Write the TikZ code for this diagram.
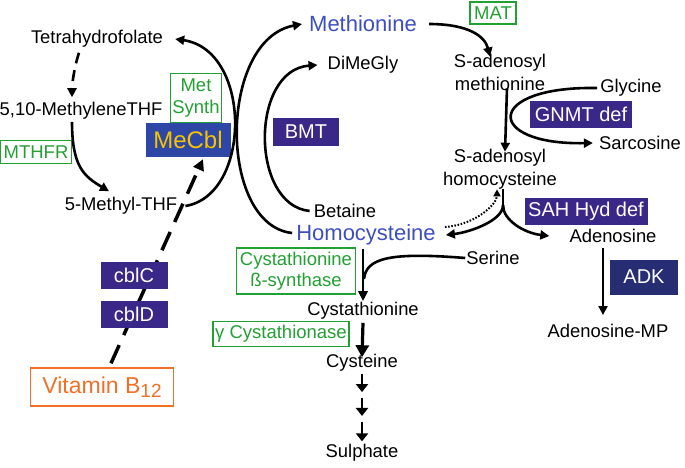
\documentclass[tikz,border=0pt]{standalone}
\usepackage{fontspec}
\setmainfont{Liberation Sans}
\usetikzlibrary{arrows.meta,positioning,calc}
\definecolor{metblue}{HTML}{3D4FBF}
\definecolor{enzgreen}{HTML}{22A032}
\definecolor{defpurple}{HTML}{3A2888}
\definecolor{adknavy}{HTML}{272D73}
\definecolor{cblblue}{HTML}{2E47A6}
\definecolor{cblyellow}{HTML}{F5C400}
\definecolor{vitorange}{HTML}{F07028}
\tikzset{
	metab/.style={inner sep=0pt, align=center, font=\fontsize{18.4}{23}\selectfont},
	keymetab/.style={inner sep=0pt, text=metblue, font=\fontsize{22}{26}\selectfont},
	enzyme/.style={draw=enzgreen, text=enzgreen, line width=1.7pt, align=center,
		inner sep=0pt, font=\fontsize{18.5}{21.5}\selectfont},
	defect/.style={fill=defpurple, text=white, inner sep=0pt,
		minimum height=27pt, font=\fontsize{20}{24}\selectfont},
	flux/.style={line width=2.6pt, -{Triangle[length=9pt,width=9pt]}},
	bigflux/.style={line width=3.2pt, -{Triangle[length=12pt,width=13pt]}},
	stepflux/.style={line width=2.6pt, -{Triangle[length=8pt,width=12pt]}},
	dotflux/.style={line width=2pt, dash pattern=on 1.6pt off 1.6pt,
		-{Triangle[length=7pt,width=7pt]}},
	b12flux/.style={line width=3.5pt, dash pattern=on 20pt off 11pt,
		-{Triangle[length=11pt,width=11pt]}}
}

\begin{document}
\begin{tikzpicture}[x=1pt, y=-1pt]
	\useasboundingbox (0,0) rectangle (685,467);

	\node[metab] (thf) at (97,39) {Tetrahydrofolate};
	\node[metab] (mthf) at (81,111) {5,10-MethyleneTHF};
	\node[metab] (methylthf) at (121,206) {5-Methyl-THF};
	\node[enzyme, minimum width=71pt, minimum height=23pt] (mthfr) at (36,152) {MTHFR};
	\node[enzyme, minimum width=51pt, minimum height=49pt] (metsynth) at (196,98) {Met\\Synth};
	\node[fill=cblblue, text=cblyellow, inner sep=0pt, minimum width=85pt, minimum height=34pt,
		font=\fontsize{24}{28}\selectfont] (mecbl) at (188,140) {MeCbl};

	\node[keymetab] (methionine) at (363,24) {Methionine};
	\node[metab] (dimegly) at (363,65) {DiMeGly};
	\node[defect, minimum width=66pt, minimum height=28pt] (bmt) at (306,132) {BMT};
	\node[metab] (betaine) at (345,211) {Betaine};
	\node[keymetab] (homocys) at (366,235) {Homocysteine};

	\node[enzyme, minimum width=46pt, minimum height=22pt] (mat) at (493,13) {MAT};
	\node[metab] (sam) at (500,72) {S-adenosyl\\methionine};
	\node[metab] (glycine) at (631,88) {Glycine};
	\node[defect, minimum width=102pt] (gnmt) at (581,114) {GNMT def};
	\node[metab] (sarcosine) at (640,143) {Sarcosine};
	\node[metab] (sah) at (500,169) {S-adenosyl\\homocysteine};
	\node[defect, minimum width=123pt] (sahhyd) at (586,211) {SAH Hyd def};
	\node[metab] (adenosine) at (613,236) {Adenosine};
	\node[defect, fill=adknavy, minimum width=68pt, minimum height=35pt] (adk) at (644,277) {ADK};
	\node[metab] (amp) at (608,331) {Adenosine-MP};

	\node[metab] (serine) at (493,258) {Serine};
	\node[enzyme, minimum width=119pt, minimum height=46pt] (cbs) at (296,271) {Cystathionine\\ß-synthase};
	\node[metab] (cysta) at (363,311) {Cystathionine};
	\node[enzyme, minimum width=136pt, minimum height=25pt] (cgl) at (281,334) {γ Cystathionase};
	\node[metab] (cyst) at (362,363) {Cysteine};
	\node[metab] (sulph) at (362,453) {Sulphate};

	\node[draw=vitorange, text=vitorange, line width=1.4pt, inner sep=0pt, minimum width=143pt,
		minimum height=38pt, font=\fontsize{23}{27}\selectfont] (vitb) at (102,387)
		{Vitamin B\raisebox{-4pt}{\fontsize{19}{19}\selectfont 12}};

	\draw[flux, dash pattern=on 11pt off 7pt] ([xshift=-18pt,yshift=-5pt]thf.south)
		.. controls +(-5,15) and +(0,-12) .. ([xshift=-9pt,yshift=5pt]mthf.north);
	\draw[flux] ([xshift=-9pt,yshift=-2pt]mthf.south) .. controls +(0,45) and +(-25,-15)
		.. ([xshift=-12pt,yshift=6pt]methylthf.north);
	\draw[flux] ([xshift=8pt]methylthf.east) .. controls (252,195) and (252,50)
		.. ([xshift=12pt]thf.east);
	\draw[flux] ([xshift=-4pt,yshift=2pt]homocys.west) .. controls (218,225) and (218,40)
		.. ([xshift=-7pt]methionine.west);
	\draw[flux] ([xshift=-4pt]betaine.west) .. controls (250,205) and (250,70)
		.. ([xshift=-10pt]dimegly.west);

	\draw[flux] ([xshift=12pt]methionine.east) .. controls +(40,0) and +(-5,-20)
		.. ([xshift=-10pt,yshift=-3pt]sam.north);
	\draw[flux] ([xshift=7pt,yshift=2pt]sam.south) -- ([xshift=5pt,yshift=-3pt]sah.north);
	\draw[flux] ([xshift=-3pt]glycine.west) .. controls (484,86) and (484,145)
		.. ([xshift=-6pt]sarcosine.west);

	\coordinate (sahsplit) at ([xshift=3pt,yshift=-16pt]sah.south);
	\draw[line width=2.6pt] ([xshift=3pt]sah.south) -- (sahsplit);
	\draw[flux] (sahsplit) .. controls +(0,15) and +(25,-3) .. ([xshift=10pt]homocys.east);
	\draw[flux] (sahsplit) .. controls +(0,15) and +(-25,-3) .. ([xshift=-20pt]adenosine.west);
	\draw[dotflux] ([xshift=9pt,yshift=8pt]homocys.east) .. controls +(30,-2) and +(0,15)
		.. ([xshift=-3pt]sah.south);

	\coordinate (adtop) at ([xshift=-10pt,yshift=-5pt]adenosine.south);
	\coordinate (adend) at (adtop |- amp.north);
	\draw[flux, line width=2pt] (adtop) -- ([yshift=9pt]adend);

	\coordinate (cbstop) at ([yshift=-4pt]cysta.north |- homocys.south);
	\coordinate (serjoin) at (364,279);
	\draw[flux, -{Triangle[length=10pt,width=9pt]}] (cbstop) -- ([yshift=1pt]cysta.north);
	\draw[line width=2.6pt] ([xshift=-1pt]serine.west) .. controls (390,252) and (366,258) .. (serjoin);

	\draw[bigflux] ([yshift=-3pt]cysta.south) -- ([yshift=-3pt]cyst.north);
	\foreach \s/\e in {0.03/0.28,0.36/0.61,0.69/0.96}
		\draw[stepflux] ($(cyst.south)!\s!(sulph.north)$) -- ($(cyst.south)!\e!(sulph.north)$);

	\draw[b12flux] ([xshift=9pt,yshift=4pt]vitb.north) -- ([xshift=15pt,yshift=-2pt]mecbl.south);
	\node[defect, minimum width=67pt] (cblc) at (134,275) {cblC};
	\node[defect, minimum width=67pt, below=12pt of cblc] (cbld) {cblD};
\end{tikzpicture}
\end{document}
